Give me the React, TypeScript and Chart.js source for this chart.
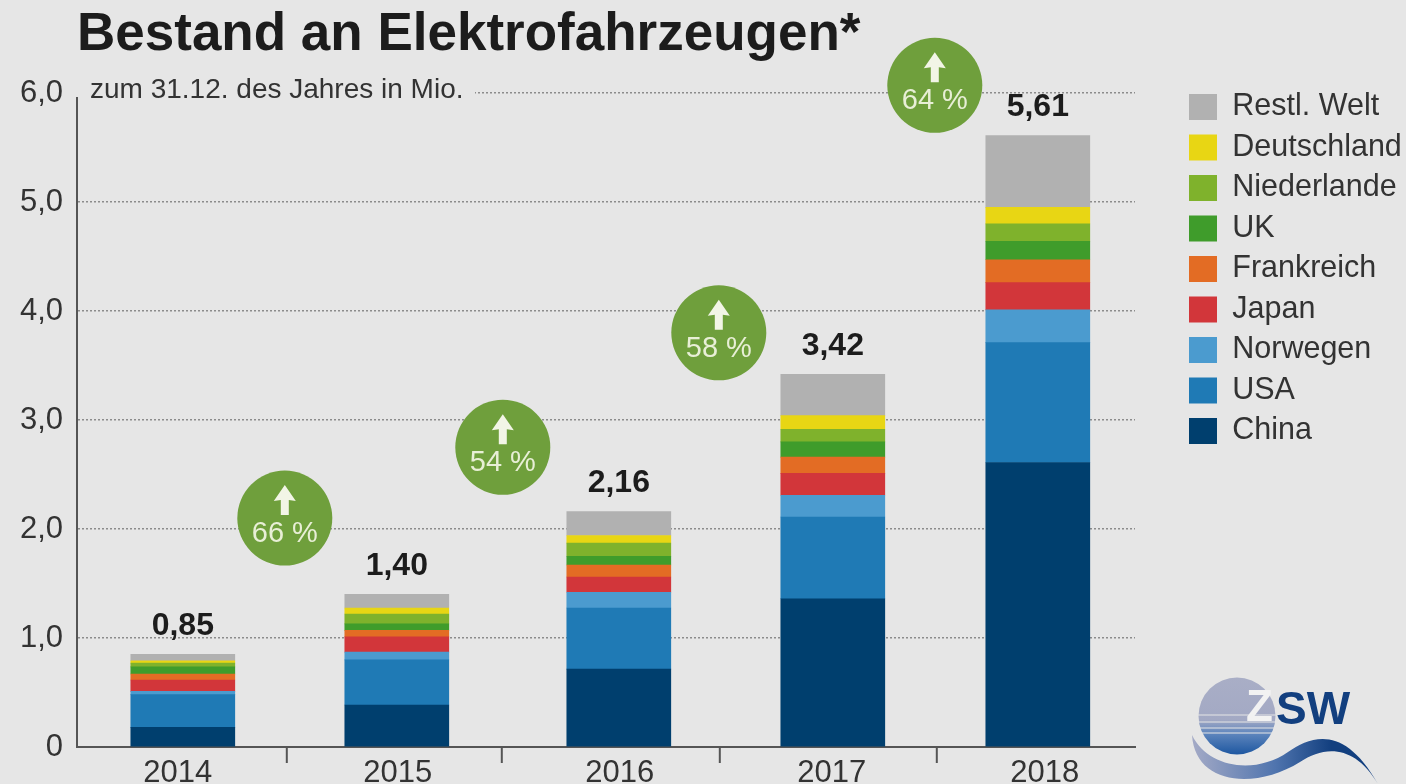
import React, { useEffect, useRef } from "react";
import { Chart, registerables, CategoryScale } from "chart.js";

const years = ["2014", "2015", "2016", "2017", "2018"];
const china = [0.18, 0.385, 0.715, 1.36, 2.61];
const usa = [0.3, 0.415, 0.56, 0.75, 1.1];
const norwegen = [0.03, 0.07, 0.145, 0.2, 0.3];
const japan = [0.105, 0.14, 0.14, 0.2, 0.25];
const frankreich = [0.055, 0.06, 0.11, 0.15, 0.21];
const uk = [0.065, 0.06, 0.08, 0.14, 0.17];
const niederlande = [0.035, 0.09, 0.12, 0.115, 0.16];
const deutschland = [0.02, 0.055, 0.07, 0.125, 0.15];
const restWelt = [0.06, 0.125, 0.22, 0.38, 0.66];
const totals = ["0,85", "1,40", "2,16", "3,42", "5,61"];
const growth = ["66 %", "54 %", "58 %", "64 %"];
const growthLevels = [2.1, 2.75, 3.8, 6.07];

const BG = "#e6e6e6";
const INK = "#333333";
const FONT = "'Liberation Sans'";

const BAR_SHIFT = [0, 2.4, 12.8, 15.2, 8.6];
const LABEL_SHIFT = [-5, 3.4, 13.8, 14.2, 15.6];
const SEPARATOR_NUDGE = [-3, -6, -6, 1.5];
const CIRCLE_NUDGE = [-5, -5, -7, -0.5];

class ColumnScale extends CategoryScale {
  static id = "columns";
  static defaults = CategoryScale.defaults;
  getPixelForValue(value: any) {
    const base = super.getPixelForValue(value);
    const v = typeof value === "number" ? value : (this as any).parse(value);
    return base + (BAR_SHIFT[Math.round(v)] || 0);
  }
  getPixelForTick(index: number) {
    return (CategoryScale.prototype.getPixelForValue as any).call(this, index) + (LABEL_SHIFT[index] || 0);
  }
}

Chart.register(...registerables, ColumnScale as any);

const placeLegend = {
  id: "placeLegend",
  afterLayout(chart: any) {
    const l = chart.legend;
    if (!l) return;
    l.left = 1179;
    l.right = 1406;
    l.width = 227;
    l.top = 81.75;
    l.bottom = 784;
    l.height = 702.25;
  },
};

const subtitleMask = {
  id: "subtitleMask",
  beforeDatasetsDraw(chart: any) {
    const { ctx } = chart;
    ctx.save();
    ctx.fillStyle = BG;
    ctx.fillRect(79, 76, 396, 28);
    ctx.fillRect(72, 84, 10, 13);
    ctx.fillStyle = INK;
    ctx.font = `28px ${FONT}`;
    ctx.textAlign = "left";
    ctx.textBaseline = "middle";
    ctx.fillText("zum 31.12. des Jahres in Mio.", 90, 90);
    ctx.restore();
  },
};

const annotations = {
  id: "annotations",
  afterDatasetsDraw(chart: any) {
    const { ctx, scales } = chart;
    const x = scales.x;
    const y = scales.y;
    ctx.save();
    ctx.textAlign = "center";
    ctx.textBaseline = "middle";
    ctx.fillStyle = "#1c1c1c";
    const stackTops = years.map((_, i) =>
      [china, usa, norwegen, japan, frankreich, uk, niederlande, deutschland, restWelt].reduce((s, a) => s + a[i], 0)
    );
    ctx.font = `bold 32px ${FONT}`;
    totals.forEach((t, i) => {
      ctx.fillText(t, x.getPixelForValue(i), y.getPixelForValue(stackTops[i]) - 28);
    });
    growth.forEach((g, i) => {
      const mid = (x.getPixelForValue(i) + x.getPixelForValue(i + 1)) / 2;
      ctx.strokeStyle = "#555";
      ctx.lineWidth = 2;
      ctx.beginPath();
      ctx.moveTo(mid + SEPARATOR_NUDGE[i], y.bottom);
      ctx.lineTo(mid + SEPARATOR_NUDGE[i], y.bottom + 16);
      ctx.stroke();
      const cx = mid + CIRCLE_NUDGE[i];
      const cy = y.getPixelForValue(growthLevels[i]);
      ctx.fillStyle = "#6f9f3c";
      ctx.beginPath();
      ctx.arc(cx, cy, 47.5, 0, Math.PI * 2);
      ctx.fill();
      ctx.fillStyle = "#f2f5e6";
      ctx.beginPath();
      ctx.moveTo(cx, cy - 33);
      ctx.lineTo(cx + 11, cy - 17);
      ctx.lineTo(cx + 4, cy - 18);
      ctx.lineTo(cx + 4, cy - 3);
      ctx.lineTo(cx - 4, cy - 3);
      ctx.lineTo(cx - 4, cy - 18);
      ctx.lineTo(cx - 11, cy - 17);
      ctx.closePath();
      ctx.fill();
      ctx.fillStyle = "#e8efd6";
      ctx.font = `29px ${FONT}`;
      ctx.fillText(g, cx, cy + 16);
    });
    // ZSW logo
    const grad = ctx.createLinearGradient(0, 677, 0, 755);
    grad.addColorStop(0, "#a9aec6");
    grad.addColorStop(0.55, "#a3a9c4");
    grad.addColorStop(0.72, "#5f86bd");
    grad.addColorStop(1, "#1c56a0");
    ctx.fillStyle = grad;
    ctx.beginPath();
    ctx.arc(1237, 716, 38.5, 0, Math.PI * 2);
    ctx.fill();
    ctx.strokeStyle = BG;
    ctx.lineWidth = 1.2;
    [715, 722, 728, 733].forEach((ly) => {
      ctx.beginPath();
      ctx.moveTo(1196, ly);
      ctx.lineTo(1278, ly);
      ctx.stroke();
    });
    ctx.textAlign = "left";
    ctx.fillStyle = "#f2f2f2";
    ctx.font = `bold 44px ${FONT}`;
    ctx.fillText("Z", 1246, 709);
    ctx.fillStyle = "#123f7f";
    ctx.font = `bold 46px ${FONT}`;
    ctx.fillText("SW", 1276, 711);
    const wave = ctx.createLinearGradient(1192, 0, 1378, 0);
    wave.addColorStop(0, "#a4aac6");
    wave.addColorStop(0.45, "#4f74ae");
    wave.addColorStop(0.75, "#123f7f");
    wave.addColorStop(1, "#123f7f");
    ctx.fillStyle = wave;
    ctx.beginPath();
    ctx.moveTo(1192, 735);
    ctx.bezierCurveTo(1208, 768, 1255, 775, 1288, 752);
    ctx.bezierCurveTo(1312, 735, 1345, 725, 1378, 784);
    ctx.bezierCurveTo(1355, 745, 1325, 745, 1300, 762);
    ctx.bezierCurveTo(1255, 790, 1195, 785, 1192, 735);
    ctx.closePath();
    ctx.fill();
    ctx.restore();
  },
};

export default function App() {
  const ref = useRef<HTMLCanvasElement | null>(null);
  useEffect(() => {
    document.body.style.margin = "0";
    document.body.style.background = BG;
    document.body.style.overflow = "hidden";
    const bar = (label: string, data: number[], color: string) => ({
      label,
      data,
      backgroundColor: color,
      borderWidth: 0,
      barThickness: 104,
      stack: "s",
    });
    const chart = new Chart(ref.current as HTMLCanvasElement, {
      type: "bar",
      data: {
        labels: years,
        datasets: [
          bar("China", china, "#003f6e"),
          bar("USA", usa, "#1f7ab5"),
          bar("Norwegen", norwegen, "#4b9bcf"),
          bar("Japan", japan, "#d2363a"),
          bar("Frankreich", frankreich, "#e36c24"),
          bar("UK", uk, "#3f9c2b"),
          bar("Niederlande", niederlande, "#7fb22c"),
          bar("Deutschland", deutschland, "#e8d614"),
          bar("Restl. Welt", restWelt, "#b1b1b1"),
        ],
      },
      options: {
        animation: false,
        responsive: false,
        layout: { padding: { left: 0, top: 0, right: 271, bottom: 0 } },
        plugins: {
          tooltip: { enabled: false },
          title: {
            display: true,
            text: "Bestand an Elektrofahrzeugen*",
            align: "start",
            fullSize: false,
            color: "#1c1c1c",
            font: { family: FONT, size: 53, weight: "bold", lineHeight: 1.2 },
            padding: { top: 4, bottom: 25.4 },
          },
          legend: {
            display: true,
            position: "chartArea",
            align: "start",
            reverse: true,
            labels: {
              boxWidth: 28,
              boxHeight: 26,
              padding: 10,
              color: INK,
              font: { family: FONT, size: 30.5 },
            },
          },
        },
        scales: {
          x: {
            type: "columns",
            stacked: true,
            grid: { display: false },
            border: { display: true, color: "#555", width: 2 },
            ticks: { color: INK, font: { family: FONT, size: 31 }, padding: 0, maxRotation: 0, autoSkip: false },
            afterFit: (s: any) => {
              s.height = 37;
            },
          },
          y: {
            stacked: true,
            min: 0,
            max: 6,
            grid: {
              drawTicks: false,
              lineWidth: 1.5,
              color: (c: any) => (c.tick && c.tick.value === 0 ? "rgba(0,0,0,0)" : "#8c8c8c"),
            },
            border: { display: true, color: "#555", width: 2, dash: [2, 2] },
            ticks: {
              stepSize: 1,
              color: INK,
              padding: 14,
              font: { family: FONT, size: 31 },
              callback: (v: any) => (v === 0 ? "0" : Number(v).toFixed(1).replace(".", ",")),
            },
            afterFit: (s: any) => {
              s.width = 77;
            },
          },
        },
      } as any,
      plugins: [placeLegend, subtitleMask, annotations],
    });
    return () => chart.destroy();
  }, []);
  return <canvas ref={ref} width={1406} height={784} style={{ display: "block", background: BG }} />;
}
